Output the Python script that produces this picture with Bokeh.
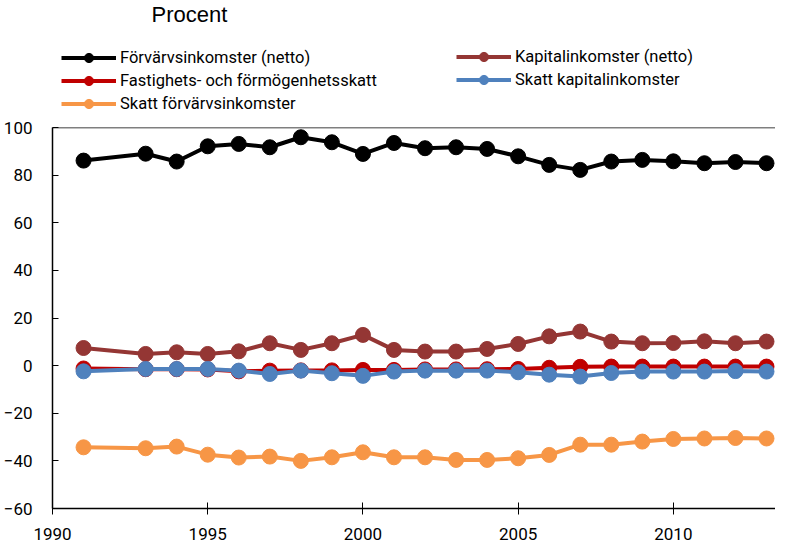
from bokeh.plotting import figure
from bokeh.layouts import column
from bokeh.models import Legend, LegendItem, Label, FixedTicker, Range1d, Span
from bokeh.embed import file_html
from bokeh.resources import INLINE

years = [1991, 1993, 1994, 1995, 1996, 1997, 1998, 1999, 2000, 2001, 2002,
         2003, 2004, 2005, 2006, 2007, 2008, 2009, 2010, 2011, 2012, 2013]
forvarv_netto = [86.1, 89.0, 85.7, 92.1, 93.1, 91.7, 95.9, 93.8, 88.9, 93.5, 91.3,
                 91.7, 91.0, 87.9, 84.3, 82.2, 85.7, 86.4, 85.8, 85.0, 85.5, 85.0]
kapital_netto = [7.4, 4.9, 5.6, 4.9, 6.0, 9.4, 6.6, 9.4, 12.9, 6.6, 5.9,
                 5.9, 7.0, 9.1, 12.3, 14.3, 10.1, 9.4, 9.5, 10.2, 9.4, 10.1]
fastighet_skatt = [-1.2, -1.5, -1.5, -1.6, -2.4, -2.1, -2.0, -2.0, -1.8, -1.8, -1.6,
                   -1.6, -1.5, -1.4, -0.9, -0.5, -0.4, -0.4, -0.4, -0.4, -0.4, -0.4]
skatt_kapital = [-2.4, -1.4, -1.4, -1.4, -2.1, -3.5, -2.1, -3.2, -4.3, -2.5, -2.1,
                 -2.1, -2.1, -2.8, -3.8, -4.6, -3.1, -2.5, -2.5, -2.5, -2.3, -2.5]
skatt_forvarv = [-34.3, -34.7, -34.0, -37.4, -38.6, -38.2, -40.0, -38.5, -36.4, -38.5, -38.5,
                 -39.6, -39.6, -38.9, -37.5, -33.2, -33.2, -31.9, -30.8, -30.6, -30.4, -30.6]

names = ["Förvärvsinkomster (netto)", "Kapitalinkomster (netto)",
         "Fastighets- och förmögenhetsskatt", "Skatt kapitalinkomster",
         "Skatt förvärvsinkomster"]
series = [forvarv_netto, kapital_netto, fastighet_skatt, skatt_kapital, skatt_forvarv]
colors = ["#000000", "#943634", "#C00000", "#4F81BD", "#F79646"]
unit_label = "Procent"

y_ticks = [-60, -40, -20, 0, 20, 40, 60, 80, 100]
x_ticks = [1990, 1995, 2000, 2005, 2010]

FONT = "Roboto"
W = 775
HEAD = 116

# ---- main chart ----
p = figure(width=W, height=546 - HEAD, output_backend="svg", toolbar_location=None,
           x_range=Range1d(1990, 2013.29), y_range=Range1d(-60, 100),
           min_border_left=45, min_border_right=0, min_border_top=11, min_border_bottom=38)
p.outline_line_color = None
p.xgrid.visible = False
p.ygrid.visible = False

for vals, col in zip(series, colors):
    p.line(years, vals, line_color=col, line_width=4)
    p.scatter(years, vals, size=15, fill_color=col, line_color=col)

for ax in (p.xaxis[0], p.yaxis[0]):
    ax.axis_line_color = "#000000"
    ax.axis_line_width = 1.5
    ax.major_tick_line_color = "#000000"
    ax.minor_tick_line_color = None
    ax.major_label_text_font = FONT
    ax.major_label_text_font_size = "17px"
    ax.major_label_text_color = "#000000"

p.yaxis[0].ticker = FixedTicker(ticks=y_ticks)
p.yaxis[0].major_tick_in = 6
p.yaxis[0].major_tick_out = 0
p.yaxis[0].major_label_standoff = 20

p.xaxis[0].ticker = FixedTicker(ticks=x_ticks)
p.xaxis[0].major_tick_in = 6
p.xaxis[0].major_tick_out = 6
p.xaxis[0].major_label_standoff = 13

p.add_layout(Span(location=100, dimension="width", line_color="#000000", line_width=1.5))

# ---- header holding the unit label and legend ----
h = figure(width=W, height=HEAD, output_backend="svg", toolbar_location=None,
           x_axis_location=None, y_axis_location=None,
           x_range=Range1d(0, 1), y_range=Range1d(0, 1),
           min_border_left=0, min_border_right=0, min_border_top=0, min_border_bottom=0)
h.xgrid.visible = False
h.ygrid.visible = False
h.outline_line_color = None

# same series drawn here only so the legend has glyphs; they fall outside this view
leg_items = {}
for name, vals, col in zip(names, series, colors):
    r1 = h.line(years, vals, line_color=col, line_width=4)
    r2 = h.scatter(years, vals, size=15, fill_color=col, line_color=col)
    leg_items[name] = [r1, r2]

def make_legend(keys, loc):
    lg = Legend(items=[LegendItem(label=k, renderers=leg_items[k]) for k in keys],
                location=loc, orientation="vertical",
                label_text_font=FONT, label_text_font_size="16.5px", label_text_color="#000000",
                glyph_width=55, glyph_height=23, label_height=23, spacing=0,
                label_standoff=4, padding=0, margin=0,
                border_line_color=None, background_fill_alpha=0)
    h.add_layout(lg, "center")

make_legend([names[0], names[2], names[4]], (9, 1))
make_legend([names[1], names[3]], (404, 25))

h.add_layout(Label(x=99, y=90, x_units="screen", y_units="screen", text=unit_label,
                   text_font="Liberation Sans", text_font_size="22px",
                   text_color="#000000"))

layout = column(h, p, spacing=0)
open("out.html", "w").write(file_html(layout, INLINE))
